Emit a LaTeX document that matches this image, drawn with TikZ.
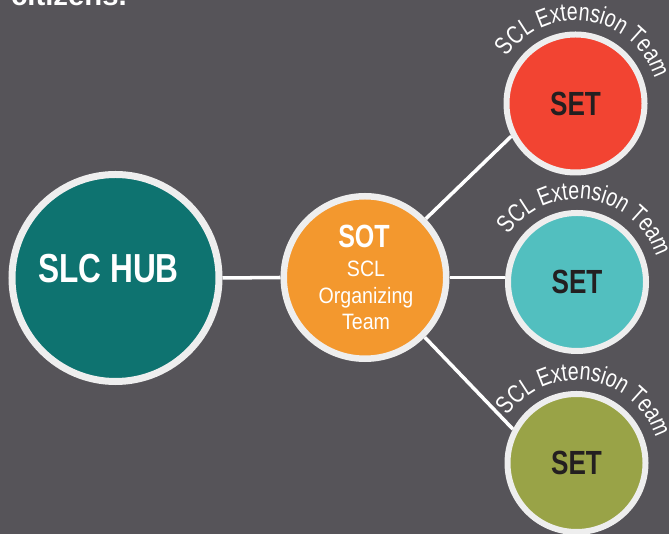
\documentclass[tikz,border=0pt]{standalone}
\usepackage{fontspec}
\setmainfont{Liberation Sans}
\newfontfamily\condbold[FakeStretch=0.78]{Liberation Sans}
\newfontfamily\condreg[FakeStretch=0.88]{Liberation Sans}
\usepackage{tikz}
\usetikzlibrary{decorations.text}
\definecolor{bggray}{RGB}{86,84,89}
\definecolor{ring}{RGB}{238,238,238}
\definecolor{hubteal}{RGB}{14,115,112}
\definecolor{sotorange}{RGB}{243,152,46}
\definecolor{setred}{RGB}{242,68,50}
\definecolor{setcyan}{RGB}{82,191,191}
\definecolor{setolive}{RGB}{153,163,71}
\definecolor{setink}{RGB}{35,31,32}

\begin{document}
\begin{tikzpicture}[x=0.03cm,y=0.03cm,
  disc/.style={circle,draw=ring,inner sep=0pt},
  setdisc/.style={disc,line width=0.18cm,minimum size=4.14cm,text=setink,
    font=\condbold\bfseries\fontsize{28.6}{30}\selectfont},
  link/.style={white,line width=3pt},
  arctext/.style={decorate,decoration={text along path,text align=center,
    text={|\condbold\fontsize{21.5}{22}\selectfont\color{white}|SCL Extension Team}}}]
\clip (0,0) rectangle (669,534);
\fill[bggray] (0,0) rectangle (669,534);
\node[anchor=base west,white,font=\bfseries\fontsize{25}{28}\selectfont] (intro) at (7,528) {citizens.};
% hub and organizing team
\node[disc,fill=hubteal,line width=0.21cm,minimum size=6.21cm] (hub) at (115.5,256) {};
\node[white,font=\condbold\bfseries\fontsize{34.6}{36}\selectfont] (hubname) at (108.5,265.5) {SLC HUB};
\node[disc,fill=sotorange,line width=0.195cm,minimum size=4.875cm] (sot) at (365,256.5) {};
\node[white,font=\condbold\bfseries\fontsize{27.4}{30}\selectfont] (sotname) at (364,297.3) {SOT};
\node[white,align=center,font=\condreg\fontsize{19}{22.5}\selectfont] (sotdesc) at (366,238.5) {SCL\\Organizing\\Team};
% extension teams
\node[setdisc,fill=setred] (setA) at (575.5,430.5) {SET};
\node[setdisc,fill=setcyan] (setB) at (577,252) {SET};
\node[setdisc,fill=setolive] (setC) at (576.5,71) {SET};
\draw[link] (hub.east) -- (sot.west);
\draw[link] (sot.44) -- (setA.207);
\draw[link] (sot.east) -- (sot.east -| setB.west);
\draw[link] (sot.-45) -- (setC.152);
\foreach \t in {setA,setB,setC}
  \path[arctext] (\t.center) ++(172:83) arc[start angle=172,end angle=-9,radius=83];
\end{tikzpicture}
\end{document}
